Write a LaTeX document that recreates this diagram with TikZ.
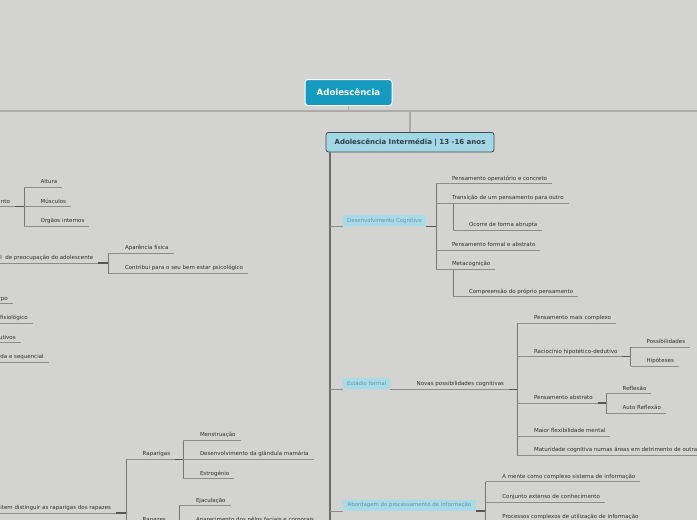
\documentclass[tikz,border=0pt]{standalone}
\usepackage{fontspec}
\setmainfont{DejaVu Sans}
\definecolor{bg}{HTML}{D3D4D1}
\definecolor{rootc}{HTML}{169BC0}
\definecolor{subc}{HTML}{A3D7E5}
\definecolor{subd}{HTML}{3D4A4F}
\definecolor{subt}{HTML}{2F3D44}
\definecolor{boxc}{HTML}{A8DAE7}
\definecolor{boxtxt}{HTML}{6396A6}
\definecolor{txt}{HTML}{2E2E2E}
\definecolor{ulc}{HTML}{8C8C8C}
\definecolor{vlc}{HTML}{767676}
\definecolor{dkc}{HTML}{555555}
\definecolor{topc}{HTML}{ABABAB}
\definecolor{trunkc}{HTML}{6B6B6B}
\begin{document}
\begin{tikzpicture}[x=1pt,y=-1pt,
  root/.style={fill=rootc,draw=white,line width=1pt,rounded corners=3pt,text=white,
    font=\bfseries\fontsize{8.6}{10}\selectfont,minimum width=87pt,minimum height=26pt,inner sep=0pt},
  mid/.style={fill=subc,draw=subd,line width=0.8pt,rounded corners=2.5pt,text=subt,
    font=\bfseries\fontsize{7}{8}\selectfont,minimum width=168pt,minimum height=19.5pt,inner sep=0pt},
  brbox/.style={fill=boxc,rounded corners=1.5pt,text=boxtxt,font=\fontsize{5.4}{6.5}\selectfont,
    minimum height=11pt,inner sep=0pt,anchor=south west},
  leaf/.style={anchor=south west,inner xsep=5pt,inner ysep=2.3pt,text height=4.3pt,text depth=1.3pt,
    font=\fontsize{5.5}{6.5}\selectfont,text=txt,outer sep=0pt},
  leafL/.style={leaf,anchor=south east},
  ul/.style={draw=ulc,line width=0.8pt},
  vl/.style={draw=vlc,line width=0.9pt},
  dk/.style={draw=dkc,line width=1.2pt},
  topl/.style={draw=topc,line width=1.6pt},
  trunk/.style={draw=trunkc,line width=1.3pt}]
\useasboundingbox (0,0) rectangle (697,520);
\fill[bg] (0,0) rectangle (697,520);
\clip (0,0) rectangle (697,520);

% ---------- top ----------
\coordinate (hl) at (0,111);
\coordinate (hr) at (697,111);
\draw[topl] (hl) -- (hr);
\node[root] (root) at (348.5,92.5) {Adolescência};
\draw[topl] (root.south) -- (root.south |- hl);
\node[mid] (mid) at (410,142.2) {Adolescência Intermédia | 13 -16 anos};
\draw[topl] (mid.north |- hl) -- (mid.north);

\coordinate (tk) at (330,0);
\coordinate (tend) at (330,530);
\draw[trunk] (mid.south -| tk) -- (tend);

% ---------- Desenvolvimento Cognitivo ----------
\node[brbox,minimum width=83pt] (dc) at (342.7,226.3) {Desenvolvimento Cognitivo};
\draw[ul] (dc.south west -| tk) -- (dc.south west);
\coordinate (v1) at (436,0);
\draw[dk] (dc.south east) -- (dc.south east -| v1);
\node[leaf] (a1) at (447,183.7) {Pensamento operatório e concreto};
\node[leaf] (a2) at (447,203.3) {Transição de um pensamento para outro};
\node[leaf] (a3) at (447,250) {Pensamento formal e abstrato};
\node[leaf] (a4) at (447,269.3) {Metacognição};
\draw[vl] (a1.south west -| v1) -- (a4.south west -| v1);
\coordinate (v2) at (453,0);
\node[leaf] (a21) at (464,230) {Ocorre de forma abrupta};
\node[leaf] (a41) at (464,296.7) {Compreensão do próprio pensamento};
\draw[vl] (a2.south west -| v2) -- (a21.south west -| v2);
\draw[vl] (a4.south west -| v2) -- (a41.south west -| v2);
\foreach \n/\v in {a1/v1,a2/v1,a3/v1,a4/v1,a21/v2,a41/v2}
  \draw[ul] (\n.south west -| \v) -- (\n.south east);

% ---------- Estadio formal ----------
\node[brbox,minimum width=47.3pt] (ef) at (342.7,389.3) {Estádio formal};
\draw[ul] (ef.south west -| tk) -- (ef.south west);
\node[leaf] (nv) at (411.7,389.3) {Novas possibilidades cognitivas};
\draw[ul] (ef.south east) -- (nv.south east);
\coordinate (v3) at (517.3,0);
\draw[dk] (nv.south east) -- (nv.south east -| v3);
\node[leaf] (b1) at (529,323.3) {Pensamento mais complexo};
\node[leaf] (b2) at (529,356.7) {Raciocínio hipotético-dedutivo};
\node[leaf] (b3) at (529,403) {Pensamento abstrato};
\node[leaf] (b4) at (529,436) {Maior flexibilidade mental};
\node[leaf] (b5) at (529,455) {Maturidade cognitiva numas áreas em detrimento de outras};
\draw[vl] (b1.south west -| v3) -- (b5.south west -| v3);
\coordinate (v4) at (630.7,0);
\draw[dk] (b2.south east) -- (b2.south east -| v4);
\node[leaf] (b21) at (641.7,347) {Possibilidades};
\node[leaf] (b22) at (641.7,366) {Hipóteses};
\draw[vl] (b21.south west -| v4) -- (b22.south west -| v4);
\coordinate (v5) at (606,0);
\draw[dk] (b3.south east) -- (b3.south east -| v5);
\node[leaf] (b31) at (617.7,393.7) {Reflexão};
\node[leaf] (b32) at (617.7,413.3) {Auto Reflexão};
\draw[vl] (b31.south west -| v5) -- (b32.south west -| v5);
\foreach \n/\v in {b1/v3,b2/v3,b3/v3,b4/v3,b5/v3,b21/v4,b22/v4,b31/v5,b32/v5}
  \draw[ul] (\n.south west -| \v) -- (\n.south east);

% ---------- Abordagem ----------
\node[brbox,minimum width=133pt] (ap) at (342.7,511) {Abordagem do processamento de informação};
\draw[ul] (ap.south west -| tk) -- (ap.south west);
\coordinate (v6) at (485.7,0);
\coordinate (v6end) at (485.7,530);
\draw[dk] (ap.south east) -- (ap.south east -| v6);
\node[leaf] (c1) at (497.3,481.7) {A mente como complexo sistema de informação};
\node[leaf] (c2) at (497.3,502.3) {Conjunto extenso de conhecimento};
\node[leaf] (c3) at (497.3,521.7) {Processos complexos de utilização de informação};
\draw[vl] (c1.south west -| v6) -- (v6end);
\foreach \n in {c1,c2,c3}
  \draw[ul] (\n.south west -| v6) -- (\n.south east);

% ---------- left side ----------
\node[leafL] (l1) at (15,206.7) {nto};
\coordinate (w1) at (24.3,0);
\draw[dk] (l1.south east) -- (l1.south east -| w1);
\node[leaf] (l11) at (35.7,187.3) {Altura};
\node[leaf] (l12) at (35.7,206.7) {Músculos};
\node[leaf] (l13) at (35.7,226.3) {Orgãos internos};
\draw[vl] (l11.south west -| w1) -- (l13.south west -| w1);

\node[leafL] (l2) at (98.3,263) {al\ \ de preocupação do adolescente};
\coordinate (w2) at (108.3,0);
\draw[dk] (l2.south east) -- (l2.south east -| w2);
\node[leaf] (l21) at (120,253.3) {Aparência física};
\node[leaf] (l22) at (120,273) {Contribui para o seu bem estar psicológico};
\draw[vl] (l21.south west -| w2) -- (l22.south west -| w2);

\node[leafL] (l3) at (12.7,303.7) {rpo};
\node[leafL] (l4) at (32.7,323) {fisiológico};
\node[leafL] (l5) at (20.7,342.7) {utivos};
\node[leafL] (l6) at (48.7,362) {da e sequencial};

\node[leafL] (l7) at (116,513) {item distinguir as raparigas dos rapazes};
\coordinate (w7) at (126,0);
\draw[dk] (l7.south east) -- (l7.south east -| w7);
\node[leaf] (r1) at (137.7,459.3) {Raparigas};
\node[leaf] (r2) at (137.7,525) {Rapazes};
\draw[vl] (r1.south west -| w7) -- (r2.south west -| w7);
\coordinate (w8) at (183.3,0);
\draw[dk] (r1.south east) -- (r1.south east -| w8);
\node[leaf] (r11) at (195,440) {Menstruação};
\node[leaf] (r12) at (195,459.3) {Desenvolvimento da glândula mamária};
\node[leaf] (r13) at (195,478.7) {Estrogénio};
\draw[vl] (r11.south west -| w8) -- (r13.south west -| w8);
\coordinate (w9) at (179,0);
\draw[dk] (r2.south east) -- (r2.south east -| w9);
\node[leaf] (r21) at (191,505.7) {Ejaculação};
\node[leaf] (r22) at (191,525) {Aparecimento dos pêlos faciais e corporais};
\draw[vl] (r21.south west -| w9) -- (r22.south west -| w9);

\foreach \n in {l1,l2,l3,l4,l5,l6,l7}
  \draw[ul] (\n.south west) -- (\n.south east);
\foreach \n/\v in {l11/w1,l12/w1,l13/w1,l21/w2,l22/w2,r1/w7,r2/w7,r11/w8,r12/w8,r13/w8,r21/w9,r22/w9}
  \draw[ul] (\n.south west -| \v) -- (\n.south east);
\end{tikzpicture}
\end{document}
